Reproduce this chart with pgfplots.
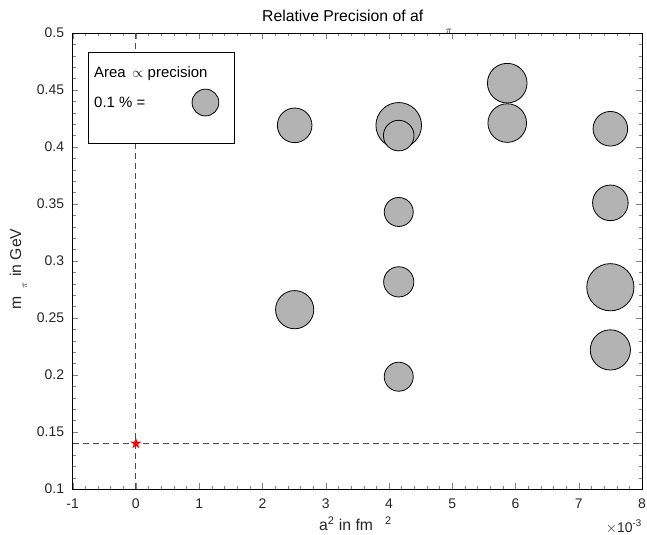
\documentclass[border=0pt]{standalone}
\usepackage{pgfplots}
\pgfplotsset{compat=1.18}
\usetikzlibrary{decorations.markings}
\usepackage{fontspec}
\setmainfont{Liberation Sans}
\definecolor{axgray}{RGB}{38,38,38}
\definecolor{circfill}{RGB}{179,179,179}
\definecolor{pureRed}{RGB}{255,0,0}
\pgfdeclareplotmark{fstar}{%
  \pgfpathmoveto{\pgfpointpolar{90}{\pgfplotmarksize}}%
  \pgfpathlineto{\pgfpointpolar{126}{0.382\pgfplotmarksize}}%
  \pgfpathlineto{\pgfpointpolar{162}{\pgfplotmarksize}}%
  \pgfpathlineto{\pgfpointpolar{198}{0.382\pgfplotmarksize}}%
  \pgfpathlineto{\pgfpointpolar{234}{\pgfplotmarksize}}%
  \pgfpathlineto{\pgfpointpolar{270}{0.382\pgfplotmarksize}}%
  \pgfpathlineto{\pgfpointpolar{306}{\pgfplotmarksize}}%
  \pgfpathlineto{\pgfpointpolar{342}{0.382\pgfplotmarksize}}%
  \pgfpathlineto{\pgfpointpolar{18}{\pgfplotmarksize}}%
  \pgfpathlineto{\pgfpointpolar{54}{0.382\pgfplotmarksize}}%
  \pgfpathclose
  \pgfusepathqfill}
\pgfplotsset{
  bub/.style={only marks, mark=*, mark size=#1bp, mark options={draw=black, fill=circfill, line width=0.8bp, solid}, forget plot},
  reddash/.style={draw=none, mark=none, forget plot,
    postaction={decorate},
    decoration={markings, mark=between positions 0 and 1 step 10bp with {\fill[pureRed] (0bp,-0.5bp) rectangle (6bp,0.5bp);}}}
}
\begin{document}
\begin{tikzpicture}
\path[use as bounding box] (0,0) rectangle (647bp,535bp);
\begin{axis}[
  at={(72.6bp,46bp)}, anchor=south west,
  scale only axis, width=569.4bp, height=456bp,
  xmin=-1, xmax=8, ymin=0.1, ymax=0.5,
  xtick={-1,0,1,2,3,4,5,6,7,8},
  ytick={0.1,0.15,0.2,0.25,0.3,0.35,0.4,0.45,0.5},
  minor x tick num=4, minor y tick num=4,
  major tick length=5.7bp, minor tick length=3bp,
  tick label style={font=\fontsize{14}{16}\selectfont, text=axgray},
  /pgf/number format/assume math mode=true,
  yticklabel style={/pgf/number format/fixed, /pgf/number format/precision=2, xshift=-5bp},
  xticklabel style={yshift=-6.3bp},
  scaled x ticks=false, scaled y ticks=false,
]
\addplot[reddash] coordinates {(0,0.1) (0,0.5)};
\addplot[reddash] coordinates {(-1,0.14) (8,0.14)};
\addplot[bub=17.3] coordinates {(2.51,0.419)};
\addplot[bub=22.8] coordinates {(4.155,0.419)};
\addplot[bub=15.3] coordinates {(4.155,0.410)};
\addplot[bub=19.8] coordinates {(5.87,0.456)};
\addplot[bub=19.3] coordinates {(5.87,0.421)};
\addplot[bub=17.3] coordinates {(7.50,0.416)};
\addplot[bub=14.5] coordinates {(4.155,0.343)};
\addplot[bub=17.8] coordinates {(7.50,0.351)};
\addplot[bub=15.1] coordinates {(4.155,0.2817)};
\addplot[bub=19.1] coordinates {(2.51,0.2573)};
\addplot[bub=23.6] coordinates {(7.50,0.277)};
\addplot[bub=20.1] coordinates {(7.50,0.222)};
\addplot[bub=14.5] coordinates {(4.155,0.1985)};
\draw[black, line width=0.8bp, fill=white] (axis cs:-0.752,0.4831) rectangle (axis cs:1.550,0.4032);
\addplot[bub=13.4] coordinates {(1.10,0.439)};
\addplot[only marks, mark=fstar, mark size=6bp, mark options={draw=none, fill=pureRed}, forget plot] coordinates {(0,0.14)};
\end{axis}
\node[anchor=base west, inner sep=0, font=\fontsize{15}{18}\selectfont] at (94bp,457bp) {Area \,$\propto$ precision};
\node[anchor=base west, inner sep=0, font=\fontsize{15}{18}\selectfont] at (94bp,427bp) {0.1 \% =};
\node[anchor=base west, inner sep=0, font=\fontsize{15.8}{18}\selectfont] at (262bp,513bp) {Relative Precision of af};
\node[inner sep=0, font=\fontsize{10}{12}\selectfont] at (449bp,504bp) {$\pi$};
\node[anchor=base west, inner sep=0, font=\fontsize{15.8}{18}\selectfont, text=axgray] at (319bp,5bp) {a\textsuperscript{2} in fm};
\node[anchor=base west, inner sep=0, font=\fontsize{15.8}{18}\selectfont, text=axgray] at (385bp,5bp) {\textsuperscript{2}};
\node[anchor=base east, inner sep=0, font=\fontsize{14}{16}\selectfont, text=axgray] at (642bp,3bp) {$\times$10\textsuperscript{-3}};
\node[rotate=90, anchor=base west, inner sep=0, font=\fontsize{15.8}{18}\selectfont, text=axgray] at (21bp,225bp) {m};
\node[rotate=90, inner sep=0, font=\fontsize{10}{12}\selectfont, text=axgray] at (25bp,250bp) {$\pi$};
\node[rotate=90, anchor=base west, inner sep=0, font=\fontsize{15.8}{18}\selectfont, text=axgray] at (21bp,258bp) {in GeV};
\end{tikzpicture}
\end{document}
